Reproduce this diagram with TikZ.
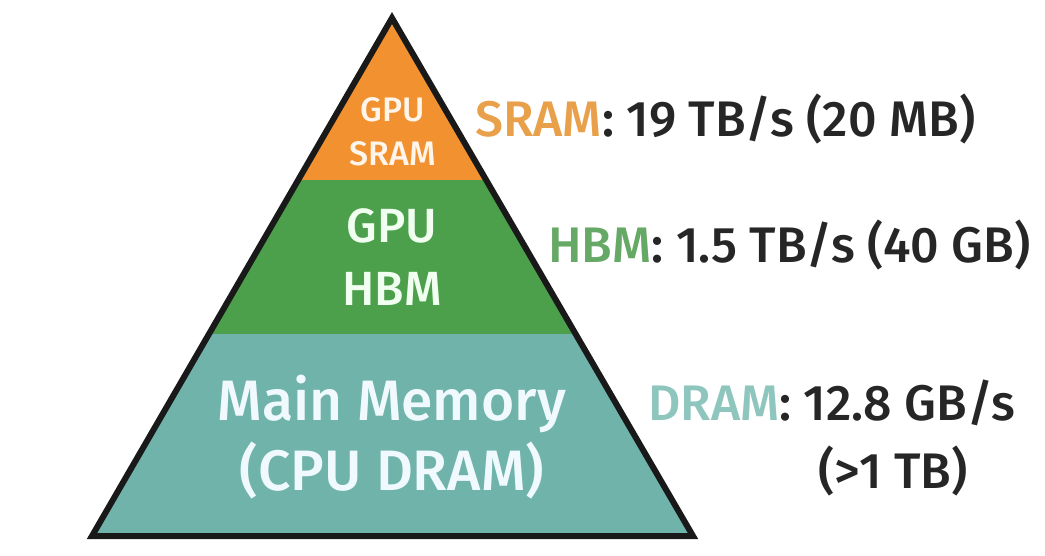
\documentclass[tikz,border=0pt]{standalone}
\usepackage{fontspec}
\setmainfont{Fira Sans Medium}
\usepackage{tikz}
\usetikzlibrary{positioning}
\definecolor{sramC}{HTML}{F2912F}
\definecolor{hbmC}{HTML}{4DA04B}
\definecolor{dramC}{HTML}{6FB3AA}
\definecolor{sramT}{HTML}{E9A04A}
\definecolor{hbmT}{HTML}{66A966}
\definecolor{dramT}{HTML}{8EC6BE}
\tikzset{
  outline/.style={draw=black!90, line width=6pt, line join=miter},
  inlabel/.style={align=center, inner sep=0pt},
  sidelabel/.style={anchor=base west, inner sep=0pt, text=black!85, font=\fontsize{50}{56}\selectfont}
}
\begin{document}
\begin{tikzpicture}[x=1pt,y=-1pt]
  \useasboundingbox (0,0) rectangle (1045,556);
  \coordinate (apex) at (392,18);
  \coordinate (bl) at (92,536);
  \coordinate (br) at (693,536);
  % bands of the pyramid
  \begin{scope}
    \clip (apex) -- (bl) -- (br) -- cycle;
    \foreach \top/\bot/\col in {0/180/sramC,180/334/hbmC,334/560/dramC}{
      \fill[\col] (50,\top) rectangle (750,\bot);
    }
  \end{scope}
  \draw[outline] (apex) -- (bl) -- (br) -- cycle;
  % text inside
  \node[inlabel, text=orange!8, font=\fontsize{34}{44}\selectfont] (sramIn) at (393,132) {GPU\\SRAM};
  \node[inlabel, text=green!6, font=\fontsize{48}{63}\selectfont] (hbmIn) at (392,257) {GPU\\HBM};
  \node[inlabel, text=cyan!6, font=\fontsize{57}{70}\selectfont] (dramIn) at (392,437) {Main Memory\\(CPU DRAM)};
  % numbers on the right
  \node[sidelabel] (sramLbl) at (475,137) {\textcolor{sramT}{SRAM}: 19 TB/s (20 MB)};
  \node[sidelabel] (hbmLbl) at (548,263) {\textcolor{hbmT}{HBM}: 1.5 TB/s (40 GB)};
  \node[sidelabel] (dramLbl) at (648,420) {\textcolor{dramT}{DRAM}: 12.8 GB/s};
  \node[sidelabel, anchor=base] (dramSize) at (893,488) {(>1 TB)};
\end{tikzpicture}
\end{document}
